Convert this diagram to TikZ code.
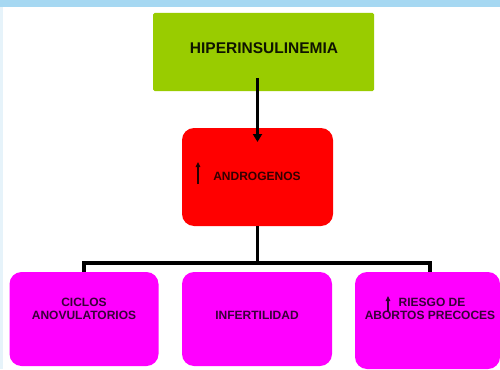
\documentclass[tikz,border=0pt]{standalone}
\usepackage{fontspec}
\setmainfont{Liberation Sans}
\usetikzlibrary{arrows.meta}
\definecolor{bandblue}{HTML}{A6D8F2}
\definecolor{edgeblue}{HTML}{E6F3FA}
\definecolor{boxgreen}{HTML}{99CC00}
\definecolor{boxred}{HTML}{FF0000}
\definecolor{boxmag}{HTML}{FF00FF}
\begin{document}
\begin{tikzpicture}[x=1pt,y=-1pt,
  box/.style={inner sep=0pt,outer sep=0pt},
  greenbox/.style={box,fill=boxgreen,rounded corners=1.5pt},
  redbox/.style={box,fill=boxred,rounded corners=12pt},
  magbox/.style={box,fill=boxmag,rounded corners=12pt},
  lbl/.style={inner sep=0pt,font=\bfseries\fontsize{12}{13}\selectfont,align=center},
  conn/.style={line width=3.4pt,draw=black},
  uparrow/.style={line width=1.2pt,-{Triangle[length=5pt,width=4.5pt]}}]
\useasboundingbox (0,0) rectangle (500,369);
\fill[white] (0,0) rectangle (500,369);
\fill[bandblue] (0,0) rectangle (500,7);
\fill[edgeblue] (0,7) rectangle (3,369);
% boxes
\node[greenbox,minimum width=221pt,minimum height=78pt] (g) at (263.5,52) {};
\node[redbox,minimum width=151pt,minimum height=98pt] (r) at (257.5,177) {};
\node[magbox,minimum width=149pt,minimum height=94pt] (a) at (84,319) {};
\node[magbox,minimum width=150pt,minimum height=94pt] (b) at (257,319) {};
\node[magbox,minimum width=145pt,minimum height=97pt] (c) at (427.5,320.5) {};
% labels
\node[lbl,font=\bfseries\fontsize{15.5}{17}\selectfont,text=black!90!boxgreen] (gt) at (264,48.5) {HIPERINSULINEMIA};
\node[lbl,text=black!80!boxred] (rt) at (257,176) {ANDROGENOS};
\node[lbl,text=black!78!boxmag] (at) at (84,308.5) {CICLOS\\ANOVULATORIOS};
\node[lbl,text=black!78!boxmag] (bt) at (257,315.5) {INFERTILIDAD};
\node[lbl,text=black!78!boxmag] (ct1) at (432,302.5) {RIESGO DE};
\node[lbl,text=black!78!boxmag] (ct2) at (430,315.5) {ABORTOS PRECOCES};
% small up arrows
\draw[uparrow,draw=black!85!boxred] (198,184) -- (198,162);
\draw[uparrow,draw=black!80!boxmag] (388,312) -- (388,296);
% connectors
\coordinate (j) at (257,263);
\draw[conn,-{Triangle[length=8pt,width=9pt]}] ([yshift=13pt]r.north |- g.south) -- ([yshift=-14pt]r.north);
\draw[conn] (r.south) -- (r.south |- j);
\draw[conn] (a.north) -- (a.north |- j) -- (430,263) -- (430,272);
\end{tikzpicture}
\end{document}
